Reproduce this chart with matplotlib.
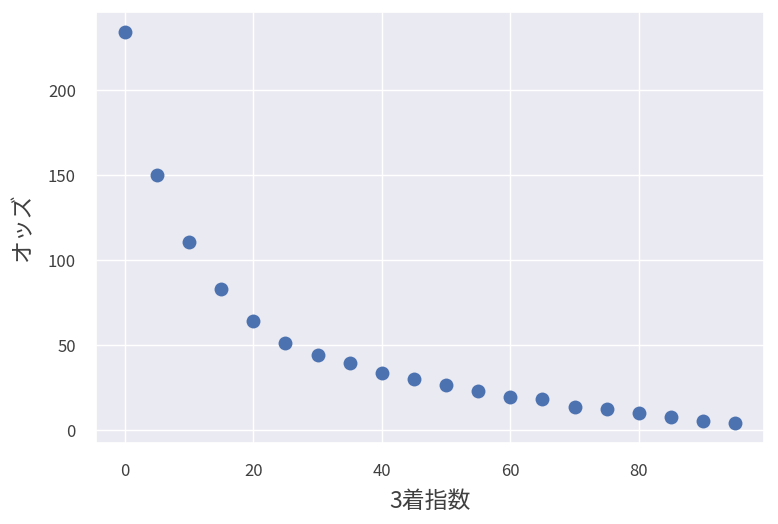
import matplotlib
matplotlib.use("Agg")
import matplotlib.pyplot as plt
import seaborn as sns

sns.set_theme(style="darkgrid")
plt.rcParams['font.family'] = ['Noto Sans CJK JP', 'DejaVu Sans']

index3 = [0, 5, 10, 15, 20, 25, 30, 35, 40, 45, 50, 55, 60, 65, 70, 75, 80, 85, 90, 95]
odds = [234.5, 150.3, 111, 83, 64.3, 51.3, 44.3, 39.6, 33.8, 30.2, 26.6, 23.0, 19.5, 18.4, 13.9, 12.5, 10.2, 7.8, 5.5, 4.3]

fig = plt.figure(figsize=(7.78, 5.24), dpi=100)
ax = fig.add_axes([96 / 778, 1 - 443 / 524, (764 - 96) / 778, (443 - 11.5) / 524])
ax.scatter(index3, odds, s=100, color='#4c72b0', linewidths=0)
ax.set_xlim(-4.5, 99.5)
ax.set_ylim(-7.4, 246.3)
ax.set_xlabel('3着指数', fontsize=16.5, color='.25', labelpad=7)
ax.set_ylabel('オッズ', fontsize=16.5, color='.25', labelpad=10)
ax.tick_params(labelsize=12, pad=8.5, labelcolor='.25')
fig.savefig('out.png', dpi=100)
